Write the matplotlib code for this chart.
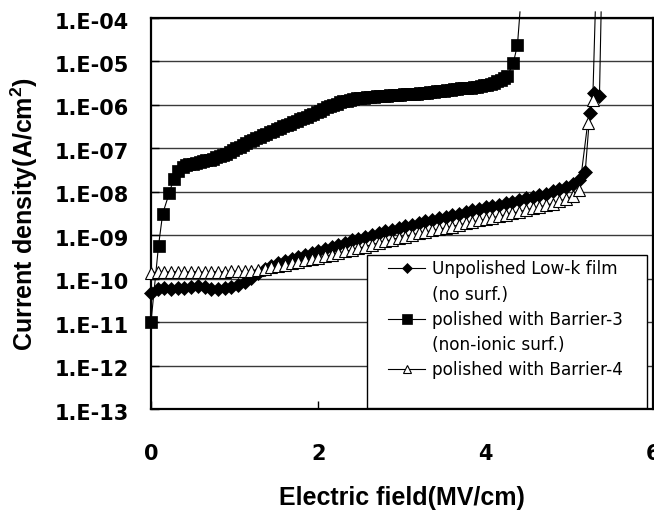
import matplotlib
matplotlib.use("Agg")
import matplotlib.pyplot as plt
import matplotlib.transforms as mtransforms
import numpy as np
from matplotlib.lines import Line2D
from matplotlib.patches import Rectangle
from matplotlib.ticker import NullLocator

# ---------------- data (log10 of current density, A/cm^2) ----------------
x_grid = [0.00, 0.08, 0.16, 0.24, 0.32, 0.40, 0.48, 0.56, 0.64, 0.72,
          0.80, 0.88, 0.96, 1.04, 1.12, 1.20, 1.28, 1.36, 1.44, 1.52,
          1.60, 1.68, 1.76, 1.84, 1.92, 2.00, 2.08, 2.16, 2.24, 2.32,
          2.40, 2.48, 2.56, 2.64, 2.72, 2.80, 2.88, 2.96, 3.04, 3.12,
          3.20, 3.28, 3.36, 3.44, 3.52, 3.60, 3.68, 3.76, 3.84, 3.92,
          4.00, 4.08, 4.16, 4.24, 4.32, 4.40, 4.48, 4.56, 4.64, 4.72,
          4.80, 4.88, 4.96, 5.04, 5.12]

unpolished_x = x_grid + [5.19, 5.245, 5.30, 5.36, 5.38]
unpolished_log = [-10.34, -10.24, -10.22, -10.23, -10.21, -10.22, -10.20, -10.17, -10.19, -10.23,
                  -10.24, -10.21, -10.19, -10.14, -10.07, -9.99, -9.88, -9.78, -9.71, -9.65,
                  -9.60, -9.55, -9.50, -9.46, -9.42, -9.37, -9.32, -9.27, -9.22, -9.17,
                  -9.12, -9.08, -9.03, -8.99, -8.95, -8.91, -8.87, -8.83, -8.79, -8.76,
                  -8.72, -8.68, -8.65, -8.61, -8.58, -8.54, -8.50, -8.47, -8.43, -8.40,
                  -8.36, -8.33, -8.30, -8.26, -8.23, -8.19, -8.15, -8.12, -8.08, -8.04,
                  -7.99, -7.94, -7.88, -7.82, -7.72,
                  -7.54, -6.19, -5.72, -5.80, -3.86]

barrier3_x = [0.00, 0.09, 0.14, 0.22, 0.27, 0.32, 0.38, 0.42, 0.46, 0.50,
              0.54, 0.58, 0.62, 0.66, 0.70, 0.74, 0.78, 0.82, 0.86, 0.90,
              0.94, 0.98, 1.02, 1.06, 1.10, 1.14, 1.18, 1.22, 1.26, 1.30,
              1.34, 1.38, 1.42, 1.46, 1.50, 1.54, 1.58, 1.62, 1.66, 1.70,
              1.74, 1.78, 1.82, 1.86, 1.90, 1.94, 1.98, 2.02, 2.06, 2.10,
              2.14, 2.18, 2.22, 2.26, 2.30, 2.34, 2.38, 2.42, 2.46, 2.50,
              2.54, 2.58, 2.62, 2.66, 2.70, 2.74, 2.78, 2.82, 2.86, 2.90,
              2.94, 2.98, 3.02, 3.06, 3.10, 3.14, 3.18, 3.22, 3.26, 3.30,
              3.34, 3.38, 3.42, 3.46, 3.50, 3.54, 3.58, 3.62, 3.66, 3.70,
              3.74, 3.78, 3.82, 3.86, 3.90, 3.94, 3.98, 4.02, 4.06, 4.10,
              4.14, 4.18, 4.22, 4.26, 4.33, 4.38, 4.41]
barrier3_log = [-11.00, -9.24, -8.50, -8.02, -7.71, -7.52, -7.42, -7.39, -7.37, -7.35,
                -7.33, -7.32, -7.30, -7.28, -7.26, -7.24, -7.21, -7.18, -7.15, -7.12,
                -7.08, -7.04, -7.00, -6.96, -6.92, -6.88, -6.84, -6.81, -6.77, -6.74,
                -6.70, -6.67, -6.63, -6.60, -6.56, -6.53, -6.49, -6.46, -6.43, -6.40,
                -6.37, -6.33, -6.30, -6.27, -6.24, -6.20, -6.17, -6.13, -6.10, -6.06,
                -6.03, -6.00, -5.97, -5.94, -5.92, -5.90, -5.88, -5.86, -5.85, -5.84,
                -5.83, -5.82, -5.81, -5.81, -5.80, -5.80, -5.79, -5.79, -5.78, -5.78,
                -5.77, -5.77, -5.76, -5.76, -5.75, -5.75, -5.74, -5.73, -5.72, -5.72,
                -5.71, -5.70, -5.69, -5.68, -5.67, -5.66, -5.65, -5.64, -5.63, -5.62,
                -5.61, -5.61, -5.60, -5.59, -5.58, -5.57, -5.55, -5.54, -5.52, -5.49,
                -5.46, -5.42, -5.38, -5.33, -5.04, -4.62, -3.86]

barrier4_x = x_grid + [5.22, 5.28, 5.31]
barrier4_log = [-9.87, -9.84, -9.85, -9.84, -9.84, -9.85, -9.84, -9.84, -9.85, -9.84,
                -9.84, -9.84, -9.83, -9.83, -9.83, -9.82, -9.79, -9.77, -9.74, -9.71,
                -9.68, -9.65, -9.62, -9.58, -9.55, -9.52, -9.48, -9.45, -9.41, -9.37,
                -9.34, -9.30, -9.26, -9.22, -9.18, -9.14, -9.10, -9.06, -9.03, -8.99,
                -8.96, -8.93, -8.89, -8.86, -8.83, -8.80, -8.76, -8.73, -8.70, -8.66,
                -8.63, -8.60, -8.56, -8.53, -8.49, -8.46, -8.42, -8.38, -8.35, -8.31,
                -8.27, -8.22, -8.16, -8.10, -7.95,
                -6.41, -5.89, -3.86]

labels = ["Unpolished Low-k film", "(no surf.)",
          "polished with Barrier-3", "(non-ionic surf.)",
          "polished with Barrier-4"]
x_ticks = [0, 2, 4, 6]
y_ticks = [1e-13, 1e-12, 1e-11, 1e-10, 1e-9, 1e-8, 1e-7, 1e-6, 1e-5, 1e-4]
y_tick_labels = ["1.E-13", "1.E-12", "1.E-11", "1.E-10", "1.E-09",
                 "1.E-08", "1.E-07", "1.E-06", "1.E-05", "1.E-04"]

# ---------------- figure ----------------
plt.rcParams['mathtext.fontset'] = 'custom'
plt.rcParams['mathtext.rm'] = 'Liberation Sans:bold'
plt.rcParams['mathtext.bf'] = 'Liberation Sans:bold'

W, H = 654, 511
fig = plt.figure(figsize=(W / 100, H / 100), dpi=100)
ax = fig.add_axes([151 / W, 1 - 409 / H, 502 / W, 391 / H])

ax.set_yscale('log')
ax.set_xlim(0, 6)
ax.set_ylim(1e-13, 1e-4)

def to_val(logs):
    return np.power(10.0, np.array(logs))

n_u = len(unpolished_x)
n_3 = len(barrier3_x)
n_4 = len(barrier4_x)

l1, = ax.plot(unpolished_x, to_val(unpolished_log), color='black', lw=0.8,
              marker='D', ms=7, mfc='black', mec='black', mew=0.5,
              markevery=list(range(n_u - 1)), clip_on=False, zorder=3)
l2, = ax.plot(barrier3_x, to_val(barrier3_log), color='black', lw=0.8,
              marker='s', ms=8.5, mfc='black', mec='black', mew=0.5,
              markevery=list(range(n_3 - 1)), clip_on=False, zorder=3)
l3, = ax.plot(barrier4_x, to_val(barrier4_log), color='black', lw=0.8,
              marker='^', ms=8, mfc='white', mec='black', mew=0.8,
              markevery=list(range(n_4 - 1)), clip_on=False, zorder=3)

# grid and ticks
ax.yaxis.set_minor_locator(NullLocator())
ax.set_yticks(y_ticks)
ax.set_yticklabels(y_tick_labels)
ax.set_xticks(x_ticks)
ax.set_xticklabels([str(t) for t in x_ticks])
ax.yaxis.grid(True, color='#3a3a3a', lw=1.0, zorder=0)
ax.set_axisbelow(True)
ax.tick_params(axis='both', direction='in', length=6, width=1, color='black')
ax.tick_params(axis='x', pad=25)
ax.tick_params(axis='y', pad=16)
shift = mtransforms.ScaledTranslation(0, -2.5 / 100, fig.dpi_scale_trans)
for lab in ax.get_yticklabels():
    lab.set_transform(lab.get_transform() + shift)
for lab in ax.get_xticklabels() + ax.get_yticklabels():
    lab.set_fontfamily('DejaVu Sans')
    lab.set_fontweight('bold')
    lab.set_fontsize(15)

for sp in ax.spines.values():
    sp.set_linewidth(1.6)
    sp.set_color('black')

ax.set_xlabel('Electric field(MV/cm)', family='Liberation Sans', weight='bold',
              fontsize=18, labelpad=16)
ax.set_ylabel(r'Current density(A/cm$^{\mathbf{2}}$)', family='Liberation Sans',
              weight='bold', fontsize=18)
ax.yaxis.set_label_coords(-0.221, 0.5)

# legend frame
ax.add_patch(Rectangle((0.4303, 0.0026), 0.988 - 0.4303, 0.394 - 0.0026,
                       transform=ax.transAxes, facecolor='white',
                       edgecolor='black', lw=1.0, zorder=4.5, clip_on=False))
blank = Line2D([], [], linestyle='none')
handles = [l1, blank, l2, blank, l3]
leg = ax.legend(handles, labels, loc='upper left',
                bbox_to_anchor=((388 - 151) / 502, 0.3805),
                frameon=False, borderpad=0, borderaxespad=0,
                handlelength=2.2, handletextpad=0.4, labelspacing=0.43,
                prop={'family': 'DejaVu Sans', 'size': 12.2}, markerscale=0.8)
leg.set_zorder(5)

fig.savefig('out.png', dpi=100)
